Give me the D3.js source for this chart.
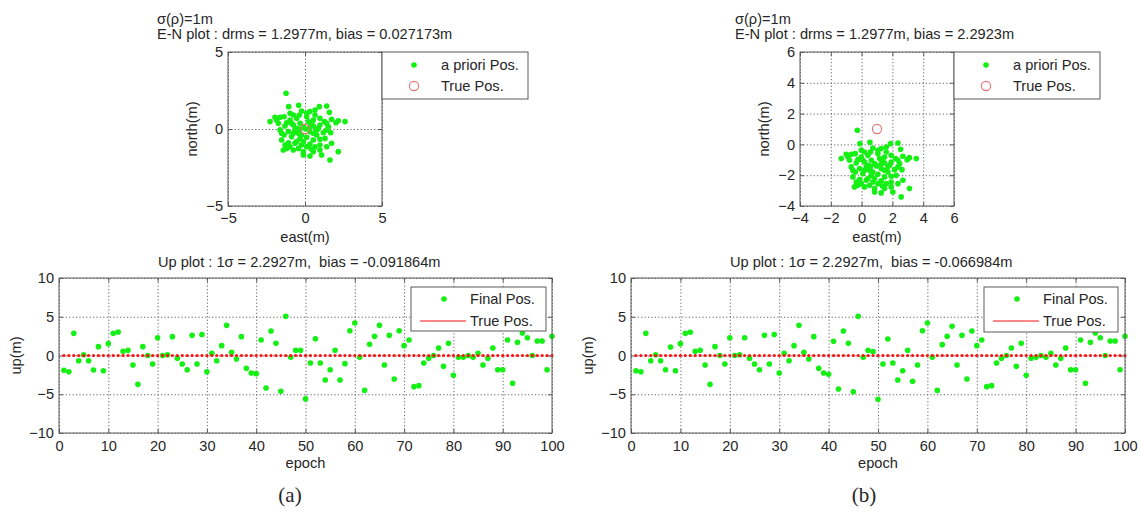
<!DOCTYPE html>
<html><head><meta charset="utf-8">
<script src="https://cdn.jsdelivr.net/npm/d3@7"></script>
<style>
body{margin:0;background:#fff}
</style>
</head><body>
<script>
// ---------------- DATA ----------------
const enTicksA = [-5, 0, 5];
const enTicksB = [-4, -2, 0, 2, 4, 6];
const upTicksX = [0, 10, 20, 30, 40, 50, 60, 70, 80, 90, 100];
const upTicksY = [-10, -5, 0, 5, 10];

// (a) a priori positions, east / north (m)
const eastA = [-1.23,-1.06,-0.41,0.93,1.41,1.58,-0.22,0.32,0.65,-0.76,-1.95,-2.27,-1.84,-1.36,-0.97,-0.54,0.11,0.54,0.97,1.26,1.73,2.16,2.60,2.01,1.52,0.97,0.54,-0.32,-0.76,-1.30,-1.62,-1.08,-0.65,-0.43,0.32,0.76,1.19,1.67,-1.36,-0.87,-0.32,0.11,0.54,0.97,-1.52,-1.08,-0.65,-0.22,0.32,0.65,1.73,-1.19,-1.41,-0.76,-0.11,0.54,0.97,2.16,-0.11,0.32,1.08,1.62,0.02,-0.37,-0.97,0.43,0.87,1.41,-0.54,-0.97,0.11,0.76,1.30,-1.73,-1.19,-0.11,0.32,-0.37,-0.76,0.54,0.97,-0.11,-1.30,-0.43,1.41,-1.62,0.65,0.11,0.22,-0.87,-1.52,-0.22,1.41,0.40,-0.50];
const northA = [2.32,1.45,1.54,1.45,1.49,1.08,1.17,1.13,0.91,0.91,0.76,0.48,0.58,0.80,0.58,0.69,0.80,0.58,0.69,0.48,0.63,0.54,0.48,0.41,0.15,0.26,0.19,0.37,0.26,0.19,-0.06,-0.17,-0.06,-0.28,-0.17,-0.06,-0.24,-0.24,-0.39,-0.50,-0.61,-0.54,-0.71,-0.67,-0.71,-0.89,-0.93,-1.04,-0.97,-1.15,-0.93,-1.26,-1.36,-1.36,-1.47,-1.47,-1.36,-1.47,-1.69,-1.75,-1.69,-2.01,0.00,0.91,1.02,0.41,0.04,-0.06,-0.82,-1.15,-1.15,-0.39,-0.61,0.37,0.41,0.15,0.15,-0.06,-0.28,-0.28,-1.04,-0.82,-1.04,-1.26,0.37,0.76,1.23,1.02,0.48,0.37,-0.28,-0.39,-1.15,-1.30,0.05];
const trueENA = [0, 0];

// (b) a priori positions, east / north (m)
const eastB = [-0.28,-0.11,0.54,1.88,2.36,2.53,0.73,1.27,1.60,0.19,-1.00,-1.32,-0.89,-0.41,-0.02,0.41,1.06,1.49,1.92,2.21,2.68,3.11,3.55,2.96,2.47,1.92,1.49,0.63,0.19,-0.35,-0.67,-0.13,0.30,0.52,1.27,1.71,2.14,2.62,-0.41,0.08,0.63,1.06,1.49,1.92,-0.57,-0.13,0.30,0.73,1.27,1.60,2.68,-0.24,-0.46,0.19,0.84,1.49,1.92,3.11,0.84,1.27,2.03,2.57,0.97,0.58,-0.02,1.38,1.82,2.36,0.41,-0.02,1.06,1.71,2.25,-0.78,-0.24,0.84,1.27,0.58,0.19,1.49,1.92,0.84,-0.35,0.52,2.36,-0.67,1.60,1.06,1.17,0.08,-0.57,0.73,2.36,1.35,0.45];
const northB = [0.92,0.05,0.14,0.05,0.09,-0.32,-0.23,-0.27,-0.49,-0.49,-0.64,-0.92,-0.82,-0.60,-0.82,-0.71,-0.60,-0.82,-0.71,-0.92,-0.77,-0.86,-0.92,-0.99,-1.25,-1.14,-1.21,-1.03,-1.14,-1.21,-1.46,-1.57,-1.46,-1.68,-1.57,-1.46,-1.64,-1.64,-1.79,-1.90,-2.01,-1.94,-2.11,-2.07,-2.11,-2.29,-2.33,-2.44,-2.37,-2.55,-2.33,-2.66,-2.76,-2.76,-2.87,-2.87,-2.76,-2.87,-3.09,-3.15,-3.09,-3.41,-1.40,-0.49,-0.38,-0.99,-1.36,-1.46,-2.22,-2.55,-2.55,-1.79,-2.01,-1.03,-0.99,-1.25,-1.25,-1.46,-1.68,-1.68,-2.44,-2.22,-2.44,-2.66,-1.03,-0.64,-0.17,-0.38,-0.92,-1.03,-1.68,-1.79,-2.55,-2.70,-1.35];
const trueENB = [1, 1];

// Up component, epochs 1..100 (m)
const epochs = [1,2,3,4,5,6,7,8,9,10,11,12,13,14,15,16,17,18,19,20,21,22,23,24,25,26,27,28,29,30,31,32,33,34,35,36,37,38,39,40,41,42,43,44,45,46,47,48,49,50,51,52,53,54,55,56,57,58,59,60,61,62,63,64,65,66,67,68,69,70,71,72,73,74,75,76,77,78,79,80,81,82,83,84,85,86,87,88,89,90,91,92,93,94,95,96,97,98,99,100];
const upA = [-1.90,-2.10,2.86,-0.67,0.10,-0.67,-1.87,1.14,-1.96,1.53,2.86,3.03,0.54,0.67,-1.23,-3.72,1.14,0.00,-1.10,2.30,0.00,0.10,2.43,-0.36,-1.10,-1.83,2.60,-1.10,2.71,-2.10,0.28,-0.67,1.27,3.89,0.40,-0.45,2.43,-1.66,-2.26,-2.34,2.00,-4.19,3.16,1.57,-4.62,5.05,-0.24,0.67,0.67,-5.60,-0.97,2.17,-0.97,-3.16,-1.83,0.67,-3.16,-1.05,3.20,4.19,-0.24,-4.50,1.44,2.47,3.89,-1.23,2.60,-3.03,3.20,1.27,2.00,-4.02,-3.89,-0.97,-0.36,0.00,0.97,-1.40,1.57,-2.56,-0.24,-0.24,0.00,-0.24,0.28,-1.23,-0.36,0.97,-1.83,-1.83,2.00,-3.59,1.70,2.90,2.30,0.00,1.87,1.87,-1.83,2.47];
const upB = [-1.96,-2.10,2.86,-0.67,0.10,-0.67,-1.83,1.10,-1.96,1.53,2.86,3.00,0.54,0.67,-1.23,-3.72,1.14,0.00,-1.10,2.30,0.00,0.10,2.30,-0.36,-1.10,-1.83,2.60,-1.10,2.71,-2.26,0.28,-0.67,1.27,3.89,0.40,-0.45,2.43,-1.66,-2.26,-2.43,1.83,-4.32,3.16,1.57,-4.67,5.05,-0.24,0.67,0.50,-5.65,-1.10,2.13,-0.97,-3.16,-1.96,0.67,-3.33,-1.23,3.20,4.19,-0.24,-4.50,1.40,2.47,3.76,-1.23,2.60,-3.03,3.16,1.27,2.00,-4.02,-3.89,-0.97,-0.36,0.00,0.97,-1.40,1.57,-2.56,-0.36,-0.24,0.00,-0.24,0.28,-1.23,-0.36,0.97,-1.83,-1.83,2.00,-3.59,1.70,2.90,2.30,0.00,1.87,1.87,-1.83,2.47];
const trueUp = [0, 0, 0, 0, 0, 0, 0, 0, 0, 0, 0, 0, 0, 0, 0, 0, 0, 0, 0, 0, 0, 0, 0, 0, 0, 0, 0, 0, 0, 0, 0, 0, 0, 0, 0, 0, 0, 0, 0, 0, 0, 0, 0, 0, 0, 0, 0, 0, 0, 0, 0, 0, 0, 0, 0, 0, 0, 0, 0, 0, 0, 0, 0, 0, 0, 0, 0, 0, 0, 0, 0, 0, 0, 0, 0, 0, 0, 0, 0, 0, 0, 0, 0, 0, 0, 0, 0, 0, 0, 0, 0, 0, 0, 0, 0, 0, 0, 0, 0, 0];

// ---------------- DRAWING ----------------
const W = 1139, H = 515;
const C = {green:'#14ef14', red:'#ff1010', circ:'#e07272', box:'#5a5a5a', grid:'#666', text:'#262626'};
const FS = 14.6;
const FONT = '"Liberation Sans", Arial, sans-serif';
const SERIF = '"Liberation Serif", "Times New Roman", serif';

const svg = d3.select('body').append('svg').attr('width', W).attr('height', H);
svg.append('rect').attr('width', W).attr('height', H).attr('fill', '#fff');

function txt(g, x, y, s, opts = {}) {
  const t = g.append('text').attr('x', x).attr('y', y).text(s)
    .attr('fill', C.text)
    .attr('text-anchor', opts.anchor || 'start')
    .style('font-size', (opts.fs || FS) + 'px')
    .style('font-family', opts.family || FONT)
    .style('white-space', 'pre');
  if (opts.rot) t.attr('transform', `rotate(-90,${x},${y})`);
  return t;
}

function frame(g, x, y, xt, yt, pad) {
  const [x0, x1] = x.range(), [y1, y0] = y.range();
  const style = a => { a.select('.domain').remove(); };
  const dotted = a => a.selectAll('line').attr('stroke', C.grid).attr('stroke-dasharray', '1.2,2.2');
  g.append('g').attr('transform', `translate(0,${y1})`)
    .call(d3.axisBottom(x).tickValues(xt).tickSize(-(y1 - y0)).tickFormat(''))
    .call(style).call(dotted);
  g.append('g').attr('transform', `translate(${x0},0)`)
    .call(d3.axisLeft(y).tickValues(yt).tickSize(-(x1 - x0)).tickFormat(''))
    .call(style).call(dotted);
  const tk = a => a.call(style).call(s => s.selectAll('line').attr('stroke', C.box));
  g.append('g').attr('transform', `translate(0,${y1})`).call(d3.axisBottom(x).tickValues(xt).tickSize(-4).tickFormat('')).call(tk);
  g.append('g').attr('transform', `translate(0,${y0})`).call(d3.axisTop(x).tickValues(xt).tickSize(-4).tickFormat('')).call(tk);
  g.append('g').attr('transform', `translate(${x0},0)`).call(d3.axisLeft(y).tickValues(yt).tickSize(-4).tickFormat('')).call(tk);
  g.append('g').attr('transform', `translate(${x1},0)`).call(d3.axisRight(y).tickValues(yt).tickSize(-4).tickFormat('')).call(tk);
  const lab = a => a.call(style)
    .call(s => s.selectAll('text').attr('fill', C.text).style('font-size', FS + 'px').style('font-family', FONT));
  g.append('g').attr('transform', `translate(0,${y1})`)
    .call(d3.axisBottom(x).tickValues(xt).tickSize(0).tickPadding(pad)).call(lab);
  g.append('g').attr('transform', `translate(${x0},0)`)
    .call(d3.axisLeft(y).tickValues(yt).tickSize(0).tickPadding(5)).call(lab);
}

function box(g, x, y) {
  const [x0, x1] = x.range(), [y1, y0] = y.range();
  g.append('rect').attr('x', x0).attr('y', y0).attr('width', x1 - x0).attr('height', y1 - y0)
    .attr('fill', 'none').attr('stroke', C.box).attr('stroke-width', 1);
}

function enPanel(o) {
  const g = svg.append('g');
  const x = d3.scaleLinear().domain(o.domain).range([o.x0, o.x1]);
  const y = d3.scaleLinear().domain(o.domain).range([o.y1, o.y0]);
  frame(g, x, y, o.ticks, o.ticks, 7);
  const pts = o.east.map((e, i) => [e, o.north[i]]);
  g.append('g').selectAll('circle').data(pts).join('circle')
    .attr('cx', d => x(d[0])).attr('cy', d => y(d[1])).attr('r', 2.8).attr('fill', C.green);
  g.append('circle').attr('cx', x(o.truePos[0])).attr('cy', y(o.truePos[1])).attr('r', 4.6)
    .attr('fill', 'none').attr('stroke', C.circ).attr('stroke-width', 1.1);
  box(g, x, y);
  txt(g, o.tx, 24, 'σ(ρ)=1m');
  txt(g, o.tx, 38.5, o.title);
  txt(g, (o.x0 + o.x1) / 2, 242, 'east(m)', {anchor: 'middle'});
  txt(g, o.x0 - 31, (o.y0 + o.y1) / 2, 'north(m)', {anchor: 'middle', rot: true});
  const L = o.legend;
  g.append('rect').attr('x', L.x).attr('y', L.y).attr('width', L.w).attr('height', L.h)
    .attr('fill', '#fff').attr('stroke', C.box);
  g.append('circle').attr('cx', L.x + 32).attr('cy', L.y + 13).attr('r', 2.8).attr('fill', C.green);
  txt(g, L.x + 59, L.y + 18, 'a priori Pos.');
  g.append('circle').attr('cx', L.x + 32).attr('cy', L.y + 34).attr('r', 4.6)
    .attr('fill', 'none').attr('stroke', C.circ).attr('stroke-width', 1.1);
  txt(g, L.x + 59, L.y + 39, 'True Pos.');
}

function upPanel(o) {
  const g = svg.append('g');
  const x = d3.scaleLinear().domain([0, 100]).range([o.x0, o.x1]);
  const y = d3.scaleLinear().domain([-10, 10]).range([o.y1, o.y0]);
  frame(g, x, y, upTicksX, upTicksY, 8);
  g.append('g').selectAll('circle').data(epochs.map((e, i) => [e, o.up[i]])).join('circle')
    .attr('cx', d => x(d[0])).attr('cy', d => y(d[1])).attr('r', 2.8).attr('fill', C.green);
  const tp = epochs.map((e, i) => [e, trueUp[i]]);
  g.append('g').selectAll('circle').data(tp).join('circle')
    .attr('cx', d => x(d[0])).attr('cy', d => y(d[1])).attr('r', 1.6).attr('fill', C.red);
  box(g, x, y);
  txt(g, o.tx, 267, o.title);
  txt(g, (o.x0 + o.x1) / 2, 468, 'epoch', {anchor: 'middle'});
  txt(g, o.x0 - 38, (o.y0 + o.y1) / 2, 'up(m)', {anchor: 'middle', rot: true});
  const L = o.legend;
  g.append('rect').attr('x', L.x).attr('y', L.y).attr('width', L.w).attr('height', L.h)
    .attr('fill', '#fff').attr('stroke', C.box);
  g.append('circle').attr('cx', L.x + 33).attr('cy', L.y + 12).attr('r', 2.8).attr('fill', C.green);
  txt(g, L.x + 59, L.y + 17, 'Final Pos.');
  g.append('line').attr('x1', L.x + 9).attr('x2', L.x + 55).attr('y1', L.y + 34).attr('y2', L.y + 34)
    .attr('stroke', C.red).attr('stroke-width', 1);
  txt(g, L.x + 59, L.y + 39, 'True Pos.');
}

enPanel({x0: 228, x1: 382, y0: 52, y1: 206, domain: [-5, 5], ticks: enTicksA,
  east: eastA, north: northA, truePos: trueENA, tx: 157,
  title: 'E-N plot : drms = 1.2977m, bias = 0.027173m',
  legend: {x: 382, y: 52, w: 146, h: 47}});
enPanel({x0: 800, x1: 954, y0: 52, y1: 206, domain: [-4, 6], ticks: enTicksB,
  east: eastB, north: northB, truePos: trueENB, tx: 735,
  title: 'E-N plot : drms = 1.2977m, bias = 2.2923m',
  legend: {x: 954, y: 52, w: 146, h: 47}});
upPanel({x0: 59, x1: 552, y0: 278, y1: 433, up: upA, tx: 158,
  title: 'Up plot : 1σ = 2.2927m,  bias = -0.091864m',
  legend: {x: 411, y: 287, w: 135, h: 44}});
upPanel({x0: 631, x1: 1125, y0: 278, y1: 433, up: upB, tx: 730,
  title: 'Up plot : 1σ = 2.2927m,  bias = -0.066984m',
  legend: {x: 984, y: 287, w: 134, h: 45}});

txt(svg, 290, 502, '(a)', {anchor: 'middle', fs: 21, family: SERIF});
txt(svg, 864, 502, '(b)', {anchor: 'middle', fs: 21, family: SERIF});
</script>
</body></html>
